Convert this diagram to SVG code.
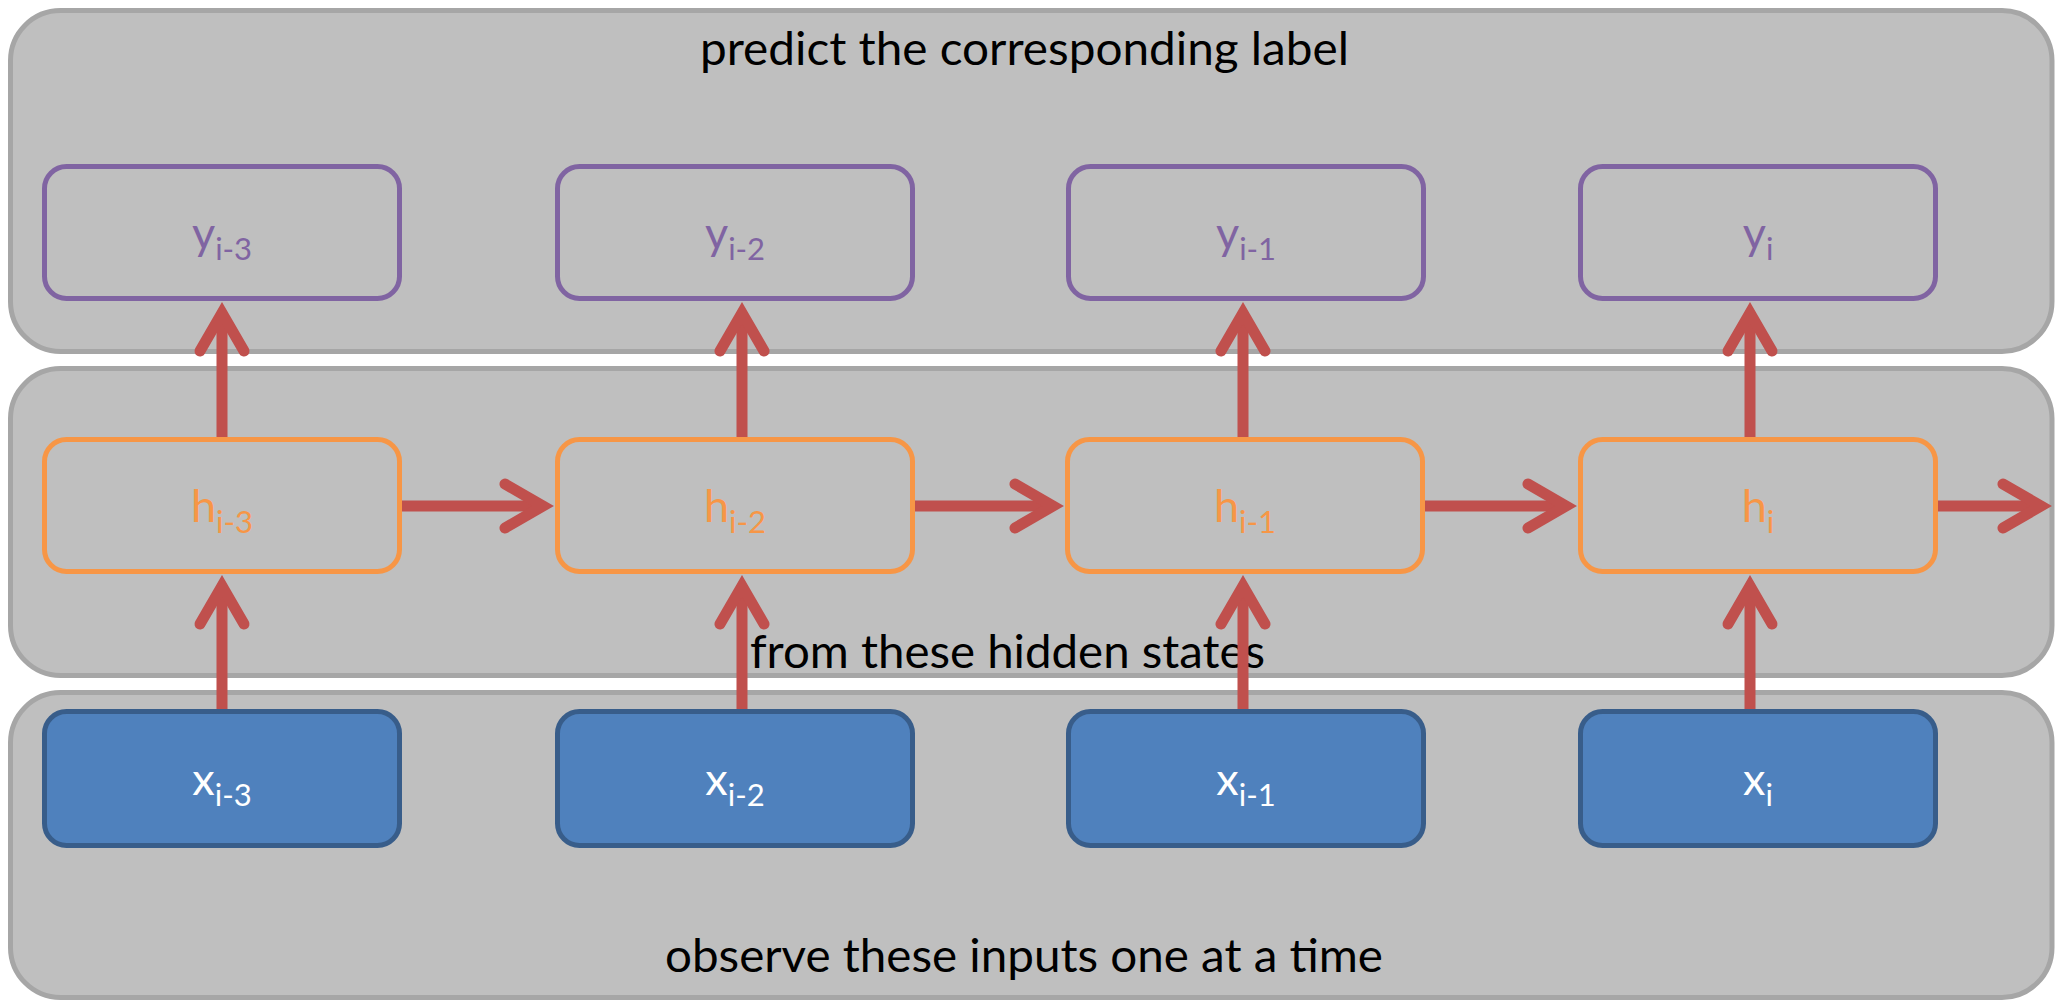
<svg xmlns="http://www.w3.org/2000/svg" width="2055" height="1000" viewBox="0 0 2055 1000">
<style>
.panel{fill:#bfbfbf;stroke:#a6a6a6;stroke-width:5}
.ybox{fill:none;stroke:#8064a2;stroke-width:5}
.hbox{fill:none;stroke:#f79646;stroke-width:5}
.xbox{fill:#4f81bd;stroke:#385d8a;stroke-width:5}
.lbl{font-family:Lato,"Liberation Sans",sans-serif;font-size:45px;text-anchor:middle}
.sub{font-size:31px}
.title{font-family:Lato,"Liberation Sans",sans-serif;font-size:46px;fill:#000}
.ylbl{fill:#8064a2}
.hlbl{fill:#f79646}
.xlbl{fill:#ffffff}
.conn{stroke:#c0504d;stroke-width:11;fill:none;marker-end:url(#arr)}
</style>
<defs>
<marker id="arr" markerUnits="userSpaceOnUse" markerWidth="60" markerHeight="60" refX="0" refY="0" orient="auto" overflow="visible">
<path d="M -38 -22 L 0 0 L -38 22" fill="none" stroke="#c0504d" stroke-width="11" stroke-linecap="round" stroke-linejoin="miter" stroke-miterlimit="10"/>
</marker>
</defs>
<rect width="2055" height="1000" fill="#ffffff"/>
<g id="panel-output">
<rect class="panel" x="10.5" y="10.5" width="2041.5" height="341" rx="50"/>
<text class="title" x="700" y="65" textLength="649" lengthAdjust="spacingAndGlyphs">predict the corresponding label</text>
</g>
<g id="panel-hidden">
<rect class="panel" x="10.5" y="368.5" width="2041.5" height="307" rx="50"/>
<text class="title" x="750" y="668" textLength="515" lengthAdjust="spacingAndGlyphs">from these hidden states</text>
</g>
<g id="panel-input">
<rect class="panel" x="10.5" y="692.5" width="2041.5" height="305" rx="50"/>
<text class="title" x="665" y="972" textLength="718" lengthAdjust="spacingAndGlyphs">observe these inputs one at a time</text>
</g>
<g id="y1"><rect class="ybox" x="44.5" y="166.5" width="355" height="132" rx="22"/><text class="lbl ylbl" x="222" y="249">y<tspan class="sub" dy="11">i-3</tspan></text></g>
<g id="y2"><rect class="ybox" x="557.5" y="166.5" width="355" height="132" rx="22"/><text class="lbl ylbl" x="735" y="249">y<tspan class="sub" dy="11">i-2</tspan></text></g>
<g id="y3"><rect class="ybox" x="1068.5" y="166.5" width="355" height="132" rx="22"/><text class="lbl ylbl" x="1246" y="249">y<tspan class="sub" dy="11">i-1</tspan></text></g>
<g id="y4"><rect class="ybox" x="1580.5" y="166.5" width="355" height="132" rx="22"/><text class="lbl ylbl" x="1758" y="249">y<tspan class="sub" dy="11">i</tspan></text></g>
<g id="h1"><rect class="hbox" x="44.5" y="439.5" width="355" height="132" rx="22"/><text class="lbl hlbl" x="222" y="522">h<tspan class="sub" dy="11">i-3</tspan></text></g>
<g id="h2"><rect class="hbox" x="557.5" y="439.5" width="355" height="132" rx="22"/><text class="lbl hlbl" x="735" y="522">h<tspan class="sub" dy="11">i-2</tspan></text></g>
<g id="h3"><rect class="hbox" x="1067.5" y="439.5" width="355" height="132" rx="22"/><text class="lbl hlbl" x="1245" y="522">h<tspan class="sub" dy="11">i-1</tspan></text></g>
<g id="h4"><rect class="hbox" x="1580.5" y="439.5" width="355" height="132" rx="22"/><text class="lbl hlbl" x="1758" y="522">h<tspan class="sub" dy="11">i</tspan></text></g>
<g id="x1"><rect class="xbox" x="44.5" y="711.5" width="355" height="134" rx="22"/><text class="lbl xlbl" x="222" y="795">x<tspan class="sub" dy="11">i-3</tspan></text></g>
<g id="x2"><rect class="xbox" x="557.5" y="711.5" width="355" height="134" rx="22"/><text class="lbl xlbl" x="735" y="795">x<tspan class="sub" dy="11">i-2</tspan></text></g>
<g id="x3"><rect class="xbox" x="1068.5" y="711.5" width="355" height="134" rx="22"/><text class="lbl xlbl" x="1246" y="795">x<tspan class="sub" dy="11">i-1</tspan></text></g>
<g id="x4"><rect class="xbox" x="1580.5" y="711.5" width="355" height="134" rx="22"/><text class="lbl xlbl" x="1758" y="795">x<tspan class="sub" dy="11">i</tspan></text></g>
<g id="connectors">
<path class="conn" d="M 222 437 L 222 313"/>
<path class="conn" d="M 742 437 L 742 313"/>
<path class="conn" d="M 1243 437 L 1243 313"/>
<path class="conn" d="M 1750 437 L 1750 313"/>
<path class="conn" d="M 222 709 L 222 586"/>
<path class="conn" d="M 742 709 L 742 586"/>
<path class="conn" d="M 1243 709 L 1243 586"/>
<path class="conn" d="M 1750 709 L 1750 586"/>
<path class="conn" d="M 402 506 L 543 506"/>
<path class="conn" d="M 915 506 L 1053 506"/>
<path class="conn" d="M 1425 506 L 1566 506"/>
<path class="conn" d="M 1938 506 L 2041 506"/>
</g>
</svg>
